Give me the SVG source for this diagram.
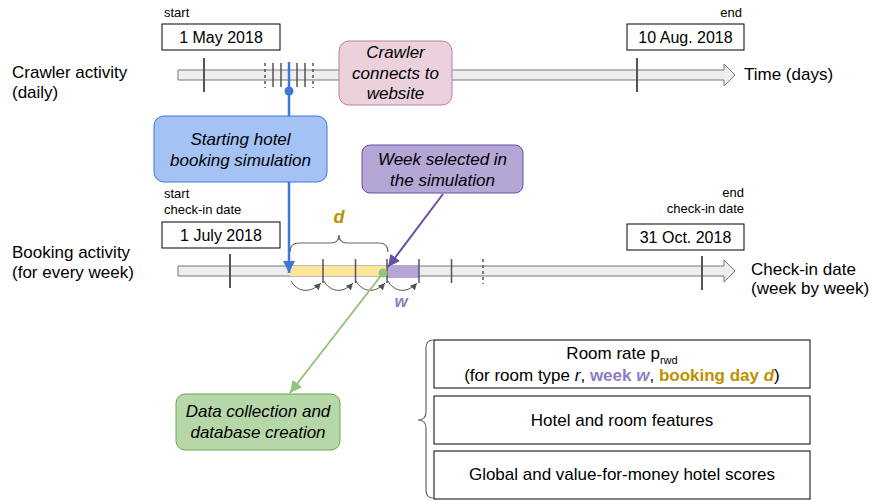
<svg xmlns="http://www.w3.org/2000/svg" width="872" height="500" viewBox="0 0 872 500">
  <defs>
    <marker id="ah-blue" markerUnits="userSpaceOnUse" markerWidth="12" markerHeight="14" refX="12" refY="6" orient="auto">
      <path d="M0,0 L12,6 L0,12 Z" fill="#3c78d8"/>
    </marker>
    <marker id="ah-purple" markerUnits="userSpaceOnUse" markerWidth="12" markerHeight="14" refX="12" refY="6" orient="auto">
      <path d="M0,0 L12,6 L0,12 Z" fill="#674ea7"/>
    </marker>
    <marker id="ah-green" markerUnits="userSpaceOnUse" markerWidth="12" markerHeight="14" refX="12" refY="6" orient="auto">
      <path d="M0,0 L12,6 L0,12 Z" fill="#93c47d"/>
    </marker>
    <marker id="ah-gray" markerUnits="userSpaceOnUse" markerWidth="8" markerHeight="8" refX="7" refY="3.5" orient="auto">
      <path d="M0,0 L7,3.5 L0,7 Z" fill="#555"/>
    </marker>
  </defs>
  <style>
    text { font-family: "Liberation Sans", Arial, sans-serif; fill: #000; }
    .lbl { font-size: 17px; }
    .small { font-size: 13px; }
    .date { font-size: 16px; text-anchor: middle; }
    .node { font-size: 17px; font-style: italic; text-anchor: middle; }
    .info { font-size: 17px; text-anchor: middle; }
    .bar { fill: #eeeeee; stroke: #777; stroke-width: 1; }
    .tick { stroke: #555; stroke-width: 1.5; }
    .tickL { stroke: #555; stroke-width: 2; }
    .dash { stroke: #555; stroke-width: 1.5; stroke-dasharray: 3 3; }
    .box { fill: #fff; stroke: #000; stroke-width: 1; }
    .brace { fill: none; stroke: #666; stroke-width: 1.2; }
    .loop { fill: none; stroke: #555; stroke-width: 1; }
  </style>

  <!-- Row labels -->
  <g id="labels">
    <text class="lbl" x="12" y="78">Crawler activity</text>
    <text class="lbl" x="12" y="98">(daily)</text>
    <text class="lbl" x="12" y="258">Booking activity</text>
    <text class="lbl" x="12" y="278">(for every week)</text>
    <text class="lbl" x="744" y="80">Time (days)</text>
    <text class="lbl" x="751" y="275">Check-in date</text>
    <text class="lbl" x="751" y="294">(week by week)</text>
  </g>

  <!-- Crawler timeline -->
  <g id="crawler-timeline">
    <polygon class="bar" points="178,70 724,70 724,64 735,75 724,86 724,80 178,80"/>
    <line class="tickL" x1="204" y1="58" x2="204" y2="92"/>
    <line class="tickL" x1="637" y1="58" x2="637" y2="92"/>
    <line class="dash" x1="265" y1="63" x2="265" y2="88"/>
    <line class="tick" x1="273" y1="63" x2="273" y2="87"/>
    <line class="tick" x1="281" y1="63" x2="281" y2="87"/>
    <line class="tick" x1="297" y1="63" x2="297" y2="87"/>
    <line class="tick" x1="305" y1="63" x2="305" y2="87"/>
    <line class="dash" x1="313" y1="63" x2="313" y2="88"/>
  </g>

  <g id="start-date">
    <text class="small" x="164" y="17">start</text>
    <rect class="box" x="162" y="24" width="118" height="26"/>
    <text class="date" x="221" y="43">1 May 2018</text>
  </g>
  <g id="end-date">
    <text class="small" x="742" y="17" text-anchor="end">end</text>
    <rect class="box" x="627" y="24" width="117" height="26"/>
    <text class="date" x="685.5" y="43">10 Aug. 2018</text>
  </g>

  <g id="crawler-node">
    <rect x="339" y="41" width="113" height="64" rx="10" fill="#ead1dc" stroke="#c27ba0" stroke-width="1"/>
    <text class="node" x="395.5" y="58">Crawler</text>
    <text class="node" x="395.5" y="79">connects to</text>
    <text class="node" x="395.5" y="99">website</text>
  </g>

  <!-- Booking timeline -->
  <g id="booking-timeline">
    <polygon class="bar" points="178,266 724,266 724,260 735,271 724,282 724,276 178,276"/>
    <rect x="290" y="266" width="97" height="10" fill="#ffe599"/>
    <rect x="387" y="265" width="32" height="13" fill="#b4a7d6"/>
    <line class="tickL" x1="230" y1="254" x2="230" y2="288"/>
    <line class="tickL" x1="702" y1="256" x2="702" y2="290"/>
    <line class="tick" x1="323" y1="259" x2="323" y2="283"/>
    <line class="tick" x1="355.5" y1="259" x2="355.5" y2="283"/>
    <line class="tick" x1="387" y1="259" x2="387" y2="283"/>
    <line class="tick" x1="419" y1="259" x2="419" y2="283"/>
    <line class="tick" x1="451.5" y1="259" x2="451.5" y2="283"/>
    <line class="dash" x1="483" y1="259" x2="483" y2="284"/>
    <!-- brace over the booking days -->
    <path class="brace" d="M290,252 Q290,243 299,243 L331,243 Q339,243 339,235 Q339,243 347,243 L379,243 Q388,243 388,252"/>
    <text x="339" y="223" font-size="18" font-weight="bold" font-style="italic" text-anchor="middle" style="fill:#bf9000">d</text>
    <!-- week-to-week steps -->
    <path class="loop" d="M291,281 C297,292 310,294 321,283" marker-end="url(#ah-gray)"/>
    <path class="loop" d="M324,281 C330,292 343,294 353,283" marker-end="url(#ah-gray)"/>
    <path class="loop" d="M356,281 C362,292 375,294 385,283" marker-end="url(#ah-gray)"/>
    <path class="loop" d="M388,281 C394,292 407,294 417,283" marker-end="url(#ah-gray)"/>
    <text x="401" y="307" font-size="17" font-weight="bold" font-style="italic" text-anchor="middle" style="fill:#8e7cc3">w</text>
  </g>

  <g id="start-checkin">
    <text class="small" x="164" y="198">start</text>
    <text class="small" x="164" y="214">check-in date</text>
    <rect class="box" x="162" y="222" width="118" height="26"/>
    <text class="date" x="221" y="241">1 July 2018</text>
  </g>
  <g id="end-checkin">
    <text class="small" x="744" y="197" text-anchor="end">end</text>
    <text class="small" x="744" y="213" text-anchor="end">check-in date</text>
    <rect class="box" x="627" y="224" width="117" height="26"/>
    <text class="date" x="685.5" y="243">31 Oct. 2018</text>
  </g>

  <!-- Connectors -->
  <g id="connectors">
    <line x1="289" y1="62" x2="289" y2="273" stroke="#3c78d8" stroke-width="2.5" marker-end="url(#ah-blue)"/>
    <circle cx="289" cy="91" r="4.5" fill="#3c78d8"/>
    <line x1="443" y1="194" x2="388" y2="267" stroke="#674ea7" stroke-width="2" marker-end="url(#ah-purple)"/>
    <line x1="383" y1="273" x2="290" y2="393" stroke="#93c47d" stroke-width="2" marker-end="url(#ah-green)"/>
    <circle cx="383" cy="273" r="4.5" fill="#93c47d"/>
  </g>

  <g id="start-sim-node">
    <rect x="154" y="116" width="173" height="66" rx="10" fill="#a4c2f4" stroke="#3c78d8" stroke-width="1"/>
    <text class="node" x="240.5" y="145">Starting hotel</text>
    <text class="node" x="240.5" y="166">booking simulation</text>
  </g>

  <g id="week-node">
    <rect x="362" y="145" width="161" height="48" rx="8" fill="#b4a7d6" stroke="#674ea7" stroke-width="1"/>
    <text class="node" x="442.5" y="165">Week selected in</text>
    <text class="node" x="442.5" y="186">the simulation</text>
  </g>

  <g id="data-node">
    <rect x="176" y="394" width="164" height="56" rx="9" fill="#b6d7a8" stroke="#6aa84f" stroke-width="1"/>
    <text class="node" x="258" y="417">Data collection and</text>
    <text class="node" x="258" y="438">database creation</text>
  </g>

  <!-- Collected data -->
  <g id="data-items">
    <path class="brace" d="M433,340 Q426,340 426,348 L426,412 Q426,420 418,420 Q426,420 426,428 L426,490 Q426,498 433,498"/>
    <rect class="box" x="434" y="340" width="376" height="48"/>
    <text class="info" x="622" y="359">Room rate p<tspan font-size="11" dy="5">rwd</tspan></text>
    <text class="info" x="622" y="381">(for room type <tspan font-style="italic">r</tspan>, <tspan font-weight="bold" style="fill:#8e7cc3">week <tspan font-style="italic">w</tspan></tspan>, <tspan font-weight="bold" style="fill:#bf9000">booking day <tspan font-style="italic">d</tspan></tspan>)</text>
    <rect class="box" x="434" y="396" width="376" height="48"/>
    <text class="info" x="622" y="426">Hotel and room features</text>
    <rect class="box" x="434" y="451" width="376" height="48"/>
    <text class="info" x="622" y="480">Global and value-for-money hotel scores</text>
  </g>
</svg>
